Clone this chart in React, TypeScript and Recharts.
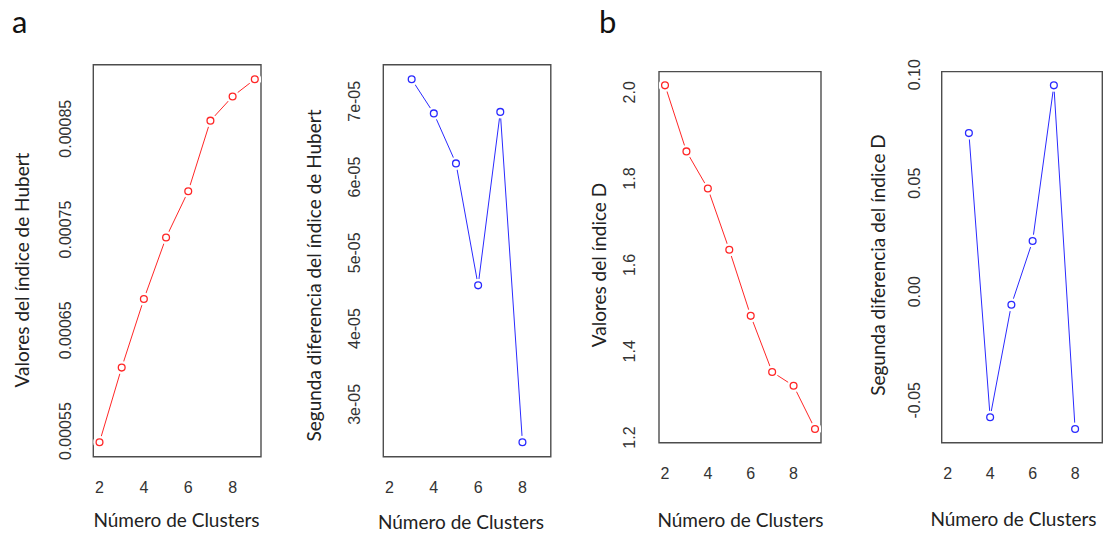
import { Line, LineChart, ReferenceArea, XAxis, YAxis } from "recharts"

// number of clusters (x) for the index plots and for the second differences
const clusters = [2, 3, 4, 5, 6, 7, 8, 9]
const diffClusters = [3, 4, 5, 6, 7, 8]

// values
const hubertValues = [0.000539, 0.000613, 0.000681, 0.000742, 0.000788, 0.000858, 0.000882, 0.000899]
const hubertSecondDiff = [7.29e-5, 6.84e-5, 6.18e-5, 4.57e-5, 6.86e-5, 2.5e-5]
const dIndexValues = [2.016, 1.863, 1.777, 1.635, 1.482, 1.352, 1.32, 1.22]
const dIndexSecondDiff = [0.0731, -0.0578, -0.006, 0.0234, 0.0951, -0.0632]

// ticks
const xTicks = [2, 4, 6, 8]
const hubertTicks = [0.00055, 0.00065, 0.00075, 0.00085]
const hubertTickLabels = ["0.00055", "0.00065", "0.00075", "0.00085"]
const hubertDiffTicks = [3e-5, 4e-5, 5e-5, 6e-5, 7e-5]
const hubertDiffTickLabels = ["3e-05", "4e-05", "5e-05", "6e-05", "7e-05"]
const dTicks = [1.2, 1.4, 1.6, 1.8, 2.0]
const dTickLabels = ["1.2", "1.4", "1.6", "1.8", "2.0"]
const dDiffTicks = [-0.05, 0, 0.05, 0.1]
const dDiffTickLabels = ["-0.05", "0.00", "0.05", "0.10"]

const RED = "#ff2626"
const BLUE = "#2a2aff"
const TICK_FONT = "'Liberation Sans', Arial, sans-serif"
const TITLE_FONT = "Lato, 'Open Sans', sans-serif"

// R-style axis range: data range padded by 4% on each side
const rRange = (vals: number[]): [number, number] => {
 const lo = Math.min(...vals)
 const hi = Math.max(...vals)
 const pad = (hi - lo) * 0.04
 return [lo - pad, hi + pad]
}

const xDomain = rRange(clusters)

interface PanelProps {
 left: number
 width: number
 box: { x0: number, x1: number, y0: number, y1: number }
 xs: number[]
 ys: number[]
 color: string
 yTicks: number[]
 yTickLabels: string[]
 yTickX: number
}

const Panel = ({ left, width, box, xs, ys, color, yTicks, yTickLabels, yTickX }: PanelProps) => {
 const data = xs.map((x, i) => ({ x, y: ys[i] }))
 const yDomain = rRange(ys)

 const labelFor = (v: number) => {
  const i = yTicks.findIndex(t => Math.abs(t - v) < 1e-12)
  return i >= 0 ? yTickLabels[i] : String(v)
 }

 return (
  <div style={{ position: 'absolute', left, top: 0 }}>
   <LineChart
    width={width}
    height={535}
    data={data}
    margin={{ top: box.y0, right: width - box.x1, bottom: 0, left: 0 }}
   >
    <XAxis
     type="number"
     dataKey="x"
     domain={xDomain}
     ticks={xTicks}
     allowDataOverflow
     axisLine={false}
     tickLine={false}
     height={535 - box.y1}
     tick={(p: any) => (
      <text
       key={p.payload.value}
       x={p.x}
       y={box.y1 + 31}
       textAnchor="middle"
       dominantBaseline="central"
       fontFamily={TICK_FONT}
       fontSize={16}
       fill="#333"
      >
       {p.payload.value}
      </text>
     )}
    />
    <YAxis
     type="number"
     dataKey="y"
     domain={yDomain}
     ticks={yTicks}
     allowDataOverflow
     axisLine={false}
     tickLine={false}
     width={box.x0}
     tick={(p: any) => (
      <text
       key={p.payload.value}
       x={yTickX}
       y={p.y}
       transform={`rotate(-90 ${yTickX} ${p.y})`}
       textAnchor="middle"
       dominantBaseline="central"
       fontFamily={TICK_FONT}
       fontSize={16}
       fill="#333"
      >
       {labelFor(p.payload.value)}
      </text>
     )}
    />
    <ReferenceArea
     x1={xDomain[0]}
     x2={xDomain[1]}
     y1={yDomain[0]}
     y2={yDomain[1]}
     fill="none"
     fillOpacity={0}
     stroke="#4d4d4d"
     strokeWidth={1.4}
     ifOverflow="visible"
    />
    <Line
     type="linear"
     dataKey="y"
     stroke={color}
     strokeWidth={1}
     isAnimationActive={false}
     activeDot={false}
     dot={(d: any) => (
      <g key={`dot-${d.index}`}>
       <circle cx={d.cx} cy={d.cy} r={6.5} fill="#fff" />
       <circle cx={d.cx} cy={d.cy} r={3.4} fill="#fff" stroke={color} strokeWidth={1.3} />
      </g>
     )}
    />
   </LineChart>
  </div>
 )
}

const Title = ({ x, y, text, rotate }: { x: number, y: number, text: string, rotate?: boolean }) => (
 <text
  x={x}
  y={y}
  transform={rotate ? `rotate(-90 ${x} ${y})` : undefined}
  textAnchor="middle"
  dominantBaseline={rotate ? "central" : "auto"}
  fontFamily={TITLE_FONT}
  fontSize={19}
  fill="#222"
 >
  {text}
 </text>
)

export default function App() {
 return (
  <div style={{ position: 'absolute', left: 0, top: 0, width: 1106, height: 535, background: '#fff', overflow: 'hidden' }}>
   <Panel
    left={0} width={280}
    box={{ x0: 93.3, x1: 261, y0: 64.8, y1: 456.7 }}
    xs={clusters} ys={hubertValues} color={RED}
    yTicks={hubertTicks} yTickLabels={hubertTickLabels} yTickX={66}
   />
   <Panel
    left={290} width={280}
    box={{ x0: 93.3, x1: 260.8, y0: 64.8, y1: 456.7 }}
    xs={diffClusters} ys={hubertSecondDiff} color={BLUE}
    yTicks={hubertDiffTicks} yTickLabels={hubertDiffTickLabels} yTickX={64.5}
   />
   <Panel
    left={580} width={270}
    box={{ x0: 79, x1: 241, y0: 71.6, y1: 442.7 }}
    xs={clusters} ys={dIndexValues} color={RED}
    yTicks={dTicks} yTickLabels={dTickLabels} yTickX={50}
   />
   <Panel
    left={850} width={256}
    box={{ x0: 91.7, x1: 252.3, y0: 71.6, y1: 442.7 }}
    xs={diffClusters} ys={dIndexSecondDiff} color={BLUE}
    yTicks={dDiffTicks} yTickLabels={dDiffTickLabels} yTickX={65}
   />
   <svg width={1106} height={535} style={{ position: 'absolute', left: 0, top: 0, pointerEvents: 'none' }}>
    <text x={12} y={33} fontFamily={TITLE_FONT} fontSize={31} fill="#111">a</text>
    <text x={599} y={33} fontFamily={TITLE_FONT} fontSize={31} fill="#111">b</text>
    <Title x={176.5} y={527} text="Número de Clusters" />
    <Title x={461} y={529} text="Número de Clusters" />
    <Title x={740.5} y={527} text="Número de Clusters" />
    <Title x={1013.5} y={526} text="Número de Clusters" />
    <Title x={21} y={270} text="Valores del índice de Hubert" rotate />
    <Title x={313} y={275.5} text="Segunda diferencia del índice de Hubert" rotate />
    <Title x={598} y={265} text="Valores del índice D" rotate />
    <Title x={877} y={265} text="Segunda diferencia del índice D" rotate />
   </svg>
  </div>
 )
}
